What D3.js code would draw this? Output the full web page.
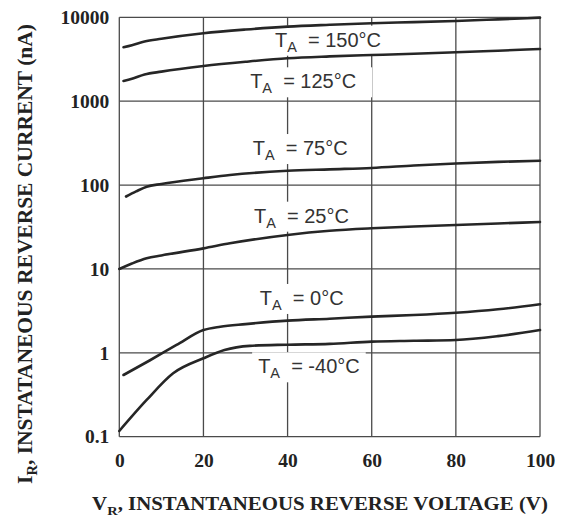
<!DOCTYPE html>
<html>
<head>
<meta charset="utf-8">
<script src="https://cdn.jsdelivr.net/npm/d3@7"></script>
<style>
  html, body { margin: 0; padding: 0; background: #fff; }
  svg { display: block; }
</style>
</head>
<body>
<svg id="chart" width="569" height="516"></svg>
<script>
// ---- data ----
const xTicks = [0, 20, 40, 60, 80, 100];
const yTicks = [0.1, 1, 10, 100, 1000, 10000];
const yTickLabels = ["0.1", "1", "10", "100", "1000", "10000"];

const seriesNames = ["150°C", "125°C", "75°C", "25°C", "0°C", "-40°C"];

const curve150 = [[1,4400],[3,4650],[6,5150],[10,5550],[20,6450],[30,7150],[40,7750],[50,8150],[60,8500],[70,8750],[80,9050],[90,9450],[100,9900]];
const curve125 = [[1,1740],[3,1850],[6,2080],[10,2250],[20,2625],[30,2950],[40,3250],[50,3420],[60,3550],[70,3680],[80,3830],[90,4000],[100,4190]];
const curve75  = [[1.6,73],[4,84],[6.5,95.7],[10,103],[20,120.5],[26.3,131.8],[40,148],[50,154],[60,160],[70,171],[80,181],[90,189],[100,195]];
const curve25  = [[0,10],[3,11.6],[6.5,13.4],[10,14.5],[20,17.6],[26.3,20.2],[40,25.4],[50,28.5],[60,30.5],[70,32],[80,33.4],[90,34.8],[100,36.3]];
const curve0   = [[1,0.544],[7.2,0.81],[13.6,1.24],[20,1.87],[24,2.05],[30,2.2],[40,2.42],[50,2.55],[60,2.70],[70,2.82],[80,3.0],[90,3.3],[100,3.79]];
const curveM40 = [[0,0.117],[6.5,0.274],[12.8,0.57],[20,0.86],[25,1.08],[31,1.21],[40,1.25],[50,1.28],[60,1.36],[70,1.39],[80,1.42],[90,1.58],[100,1.87]];

const allCurves = [curve150, curve125, curve75, curve25, curve0, curveM40];

// label anchors in data units (V, I)
const labelV = [37.0, 31.1, 31.7, 32.0, 33.4, 33.0];
const labelI = [4464, 1424, 228, 35.6, 3.72, 0.570];

const xTitle = ", INSTANTANEOUS REVERSE VOLTAGE (V)";
const yTitle = ", INSTATANEOUS REVERSE CURRENT (nA)";

// ---- layout ----
const svg = d3.select("#chart");
const mLeft = 119.3, mRight = 540, mTop = 17.3, mBottom = 436.7;

const x = d3.scaleLinear().domain([0, 100]).range([mLeft, mRight]);
const y = d3.scaleLog().domain([0.1, 10000]).range([mBottom, mTop]);

const gridColor = "#4a4a4a";
const serif = "'Liberation Serif','Times New Roman',Times,serif";
const sans = "'Liberation Sans',Arial,Helvetica,sans-serif";

// grid
const grid = svg.append("g");
grid.selectAll("line.v").data(xTicks).join("line")
  .attr("x1", d => x(d)).attr("x2", d => x(d))
  .attr("y1", mTop).attr("y2", mBottom)
  .attr("stroke", gridColor).attr("stroke-width", 1.3);
grid.selectAll("line.h").data(yTicks).join("line")
  .attr("x1", mLeft).attr("x2", mRight)
  .attr("y1", d => y(d)).attr("y2", d => y(d))
  .attr("stroke", gridColor).attr("stroke-width", 1.3);

// axes (tick labels only)
const xAxis = svg.append("g").attr("transform", `translate(0,${mBottom})`)
  .call(d3.axisBottom(x).tickValues(xTicks).tickSize(0).tickPadding(16));
xAxis.select(".domain").remove();
xAxis.selectAll("text").attr("font-family", serif).attr("font-weight", "bold")
  .attr("font-size", 19.5).attr("fill", "#222");

const yAxis = svg.append("g").attr("transform", `translate(${mLeft},0)`)
  .call(d3.axisLeft(y).tickValues(yTicks).tickFormat((d, i) => yTickLabels[i]).tickSize(0).tickPadding(10));
yAxis.select(".domain").remove();
yAxis.selectAll("text").attr("font-family", serif).attr("font-weight", "bold")
  .attr("font-size", 19.5).attr("fill", "#222");

// labels with white backgrounds
const boxLayer = svg.append("g");
const lineLayer = svg.append("g");
const labelLayer = svg.append("g");

const labels = labelLayer.selectAll("text").data(seriesNames).join("text")
  .attr("x", (d, i) => x(labelV[i]))
  .attr("y", (d, i) => y(labelI[i]))
  .attr("font-family", sans).attr("font-size", 20).attr("fill", "#333")
  .style("white-space", "pre");
labels.append("tspan").text("T");
labels.append("tspan").text("A").attr("font-size", 14.5).attr("dy", 5);
labels.append("tspan").text(d => "  = " + d).attr("dy", -5);

labels.each(function(d, i) {
  const b = this.getBBox();
  const padR = i === 1 ? 16 : 6;
  boxLayer.append("rect")
    .attr("x", b.x - 6).attr("y", b.y - 3)
    .attr("width", b.width + 6 + padR).attr("height", b.height + 4)
    .attr("fill", "#fff");
});

// curves
const line = d3.line().x(d => x(d[0])).y(d => y(d[1])).curve(d3.curveMonotoneX);
lineLayer.selectAll("path").data(allCurves).join("path")
  .attr("d", line).attr("fill", "none")
  .attr("stroke", "#262626").attr("stroke-width", 2.6).attr("stroke-linecap", "round");

// titles
const xtG = svg.append("g");
const xt = xtG.append("text").attr("x", 0).attr("y", 0)
  .attr("text-anchor", "middle").attr("font-family", serif).attr("font-weight", "bold")
  .attr("font-size", 19.5).attr("fill", "#222");
xt.append("tspan").text("V");
xt.append("tspan").text("R").attr("font-size", 13.5).attr("dy", 5);
xt.append("tspan").text(xTitle).attr("dy", -5);
{
  const w = xt.node().getComputedTextLength();
  const target = 456, sx = target / w;
  xtG.attr("transform", `translate(320,509.5) scale(${sx},1)`);
}

const yt = svg.append("text").attr("transform", "translate(32,254) rotate(-90)")
  .attr("text-anchor", "middle").attr("font-family", serif).attr("font-weight", "bold")
  .attr("font-size", 21.5).attr("fill", "#222");
yt.append("tspan").text("I");
yt.append("tspan").text("R").attr("font-size", 14.5).attr("dy", 5);
yt.append("tspan").text(yTitle).attr("dy", -5);
</script>
</body>
</html>
